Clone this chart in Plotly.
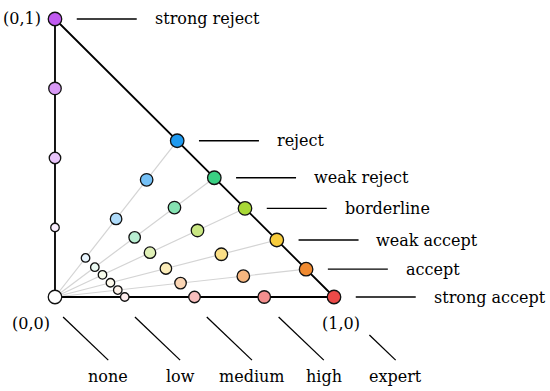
import plotly.graph_objects as go

# ---- data ----
decisions = ["strong reject", "reject", "weak reject", "borderline",
             "weak accept", "accept", "strong accept"]
decision_x = [0.0, 0.438, 0.571, 0.681, 0.795, 0.900, 1.0]
decision_y = [1.0, 0.562, 0.429, 0.319, 0.205, 0.100, 0.0]
decision_colors = ["#c05af0", "#1e9af0", "#3ad083", "#a8d836",
                   "#f8cc3c", "#f08a30", "#ec4a48"]

confidence = ["none", "low", "medium", "high", "expert"]
confidence_level = [0.0, 0.25, 0.5, 0.75, 1.0]
confidence_tint = [0.0, 0.1, 0.36, 0.62, 1.0]

corner_labels = ["(0,1)", "(0,0)", "(1,0)"]
corner_x = [0, 0, 1]
corner_y = [1, 0, 0]

# ---- styles ----
FONT = dict(family="DejaVu Serif", size=16, color="black")
marker_sizes = [13.5, 8.5, 11.5, 12.5, 13.5]


def blend(hexc, t):
    r, g, b = int(hexc[1:3], 16), int(hexc[3:5], 16), int(hexc[5:7], 16)
    f = lambda c: int(round(255 - (255 - c) * t))
    return "rgb(%d,%d,%d)" % (f(r), f(g), f(b))


fig = go.Figure()

# grey rays
for x, y in zip(decision_x, decision_y):
    fig.add_trace(go.Scatter(x=[0, x], y=[0, y], mode="lines",
                             line=dict(color="#d4d4d4", width=1.2),
                             hoverinfo="skip", showlegend=False))

# triangle
fig.add_trace(go.Scatter(x=[corner_x[1], corner_x[2], corner_x[0], corner_x[1]],
                         y=[corner_y[1], corner_y[2], corner_y[0], corner_y[1]],
                         mode="lines", line=dict(color="black", width=1.8),
                         hoverinfo="skip", showlegend=False))

# right leader lines + labels
for name, x, y in zip(decisions, decision_x, decision_y):
    fig.add_trace(go.Scatter(x=[x + 0.078, x + 0.293], y=[y, y], mode="lines",
                             line=dict(color="black", width=1.3),
                             hoverinfo="skip", showlegend=False))
    fig.add_annotation(x=x + 0.35, y=y, text=name, showarrow=False,
                       xanchor="left", yanchor="middle", font=FONT)

# bottom leader lines + labels
for i, (name, lv) in enumerate(zip(confidence, confidence_level)):
    x0 = 0.029 + lv * 1.03
    y_top = -0.072 if i < 4 else -0.137
    y_bot = -0.227
    xa = x0 + (-0.072 - y_top) * 1.045
    xb = x0 + 0.155 * 1.045
    fig.add_trace(go.Scatter(x=[xa, xb], y=[y_top, y_bot], mode="lines",
                             line=dict(color="black", width=1.3),
                             hoverinfo="skip", showlegend=False))
    fig.add_annotation(x=xb, y=-0.287, text=name, showarrow=False,
                       xanchor="center", yanchor="middle", font=FONT)

# markers per confidence level
for lv, tint, size in list(zip(confidence_level, confidence_tint, marker_sizes))[1:]:
    fig.add_trace(go.Scatter(
        x=[x * lv for x in decision_x], y=[y * lv for y in decision_y],
        mode="markers",
        marker=dict(size=size, color=[blend(c, tint) for c in decision_colors],
                    line=dict(color="#111111", width=1.3)),
        hoverinfo="skip", showlegend=False))

# origin (none)
fig.add_trace(go.Scatter(x=[0], y=[0], mode="markers",
                         marker=dict(size=marker_sizes[0], color="white",
                                     line=dict(color="#111111", width=1.3)),
                         hoverinfo="skip", showlegend=False))

# corner labels
fig.add_annotation(x=corner_x[0] - 0.043, y=corner_y[0], text=corner_labels[0],
                   showarrow=False, xanchor="right", yanchor="middle", font=FONT)
fig.add_annotation(x=corner_x[1] - 0.086, y=corner_y[1] - 0.094, text=corner_labels[1],
                   showarrow=False, xanchor="center", yanchor="middle", font=FONT)
fig.add_annotation(x=corner_x[2] + 0.025, y=corner_y[2] - 0.094, text=corner_labels[2],
                   showarrow=False, xanchor="center", yanchor="middle", font=FONT)

fig.update_layout(
    width=550, height=391,
    margin=dict(l=0, r=0, t=0, b=0),
    paper_bgcolor="white", plot_bgcolor="white",
    xaxis=dict(range=[-0.1971, 1.7742], visible=False, fixedrange=True),
    yaxis=dict(range=[-0.3381, 1.0683], visible=False, fixedrange=True),
    showlegend=False,
)

fig.write_html("out.html", config={"displayModeBar": False},
               post_script="document.body.style.margin='0';document.body.style.overflow='hidden';")
